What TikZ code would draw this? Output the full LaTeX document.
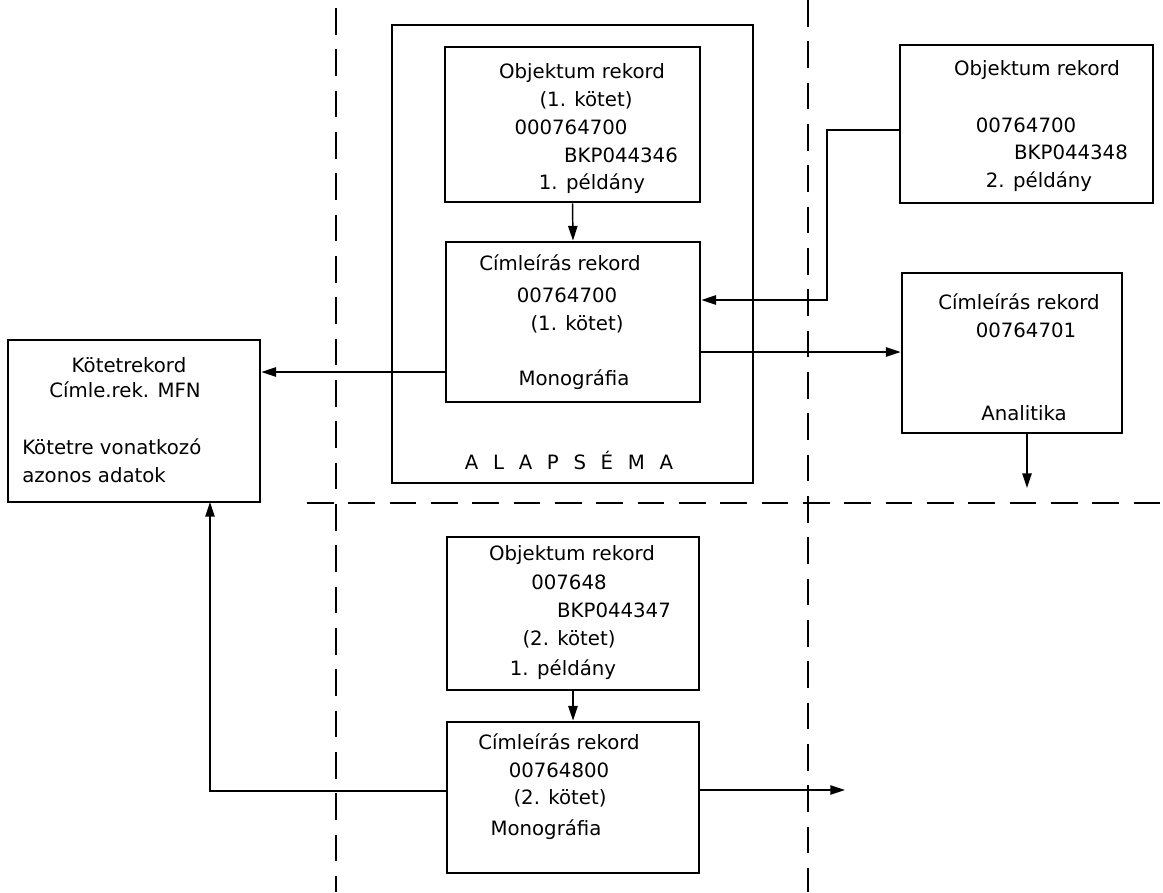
\documentclass[tikz,border=0pt]{standalone}
\usepackage{fontspec}
\setmainfont{DejaVu Sans}
\usetikzlibrary{arrows.meta,fit,calc}
\begin{document}
\begin{tikzpicture}[x=0.75pt,y=-0.75pt,
  box/.style={draw, line width=2.1pt, inner sep=0pt, fit={#1}},
  txt/.style={inner sep=0pt, anchor=base, yshift=-5.25pt, font=\fontsize{14.8pt}{18pt}\selectfont},
  arr/.style={line width=1.1pt, -{Triangle[length=11pt,width=7pt]}},
  sep/.style={line width=1.1pt, dash pattern=on 20pt off 11pt}]
\useasboundingbox (0,0) rectangle (1163,892);
% separating dashed lines
\draw[sep] (336,8) -- (336,892);
\draw[sep] (808,0) -- (808,892);
\draw[sep] (307,503) -- (1163,503);
% boxes
\node[box={(392,25) (753,483)}] (alap) {};
\node[box={(445,47) (700,202)}] (obj1) {};
\node[box={(446,242) (700,402)}] (cim1) {};
\node[box={(8,340) (260,502)}] (kotet) {};
\node[box={(900,45) (1153,203)}] (obj2) {};
\node[box={(902,273) (1122,433)}] (ana) {};
\node[box={(447,537) (699,690)}] (obj3) {};
\node[box={(447,722) (699,873)}] (cim3) {};
% texts
\node[txt] (t11) at (582,72) {Objektum rekord};
\node[txt] (t12) at (586,100) {(1. kötet)};
\node[txt] (t13) at (571,127) {000764700};
\node[txt] (t14) at (621,155) {BKP044346};
\node[txt] (t15) at (592,182) {1. példány};
\node[txt] (t21) at (560,263) {Címleírás rekord};
\node[txt] (t22) at (567,295) {00764700};
\node[txt] (t23) at (577,323) {(1. kötet)};
\node[txt] (t24) at (574,378) {Monográfia};
\node[txt] (t31) at (129,365) {Kötetrekord};
\node[txt] (t32) at (125,390) {Címle.rek. MFN};
\node[txt, anchor=base west] (t33) at (22,447) {Kötetre vonatkozó};
\node[txt, anchor=base west] (t34) at (22,475) {azonos adatok};
\node[txt] (t41) at (1037,68) {Objektum rekord};
\node[txt] (t42) at (1026,125) {00764700};
\node[txt] (t43) at (1071,152) {BKP044348};
\node[txt] (t44) at (1039,180) {2. példány};
\node[txt] (t51) at (1019,302) {Címleírás rekord};
\node[txt] (t52) at (1026,330) {00764701};
\node[txt] (t53) at (1024,413) {Analitika};
\node[txt] (t61) at (569,462) {A\hspace{11pt}L\hspace{11pt}A\hspace{11pt}P\hspace{11pt}S\hspace{11pt}É\hspace{11pt}M\hspace{11pt}A};
\node[txt] (t71) at (572,553) {Objektum rekord};
\node[txt] (t72) at (569,582) {007648};
\node[txt] (t73) at (614,610) {BKP044347};
\node[txt] (t74) at (569,638) {(2. kötet)};
\node[txt] (t75) at (563,668) {1. példány};
\node[txt] (t81) at (559,742) {Címleírás rekord};
\node[txt] (t82) at (559,770) {00764800};
\node[txt] (t83) at (560,797) {(2. kötet)};
\node[txt] (t84) at (546,828) {Monográfia};
% connectors
\coordinate (bend) at (827,300);
\coordinate (anaend) at (1027,488);
\coordinate (kbot) at (210,502);
\coordinate (out3) at (845,790);
\draw[arr] (obj1.south) -- (cim1.north);
\draw[arr] (cim1.west |- 0,372) -- (kotet.east |- 0,372);
\draw[arr] (obj2.west |- 0,130) -| (bend) -- (cim1.east |- bend);
\draw[arr] (cim1.east |- 0,352) -- (ana.west |- 0,352);
\draw[arr] (ana.south -| anaend) -- (anaend);
\draw[arr] (obj3.south) -- (cim3.north);
\draw[arr] (cim3.west |- 0,791) -| (kbot);
\draw[arr] (cim3.east |- out3) -- (out3);
\end{tikzpicture}
\end{document}
